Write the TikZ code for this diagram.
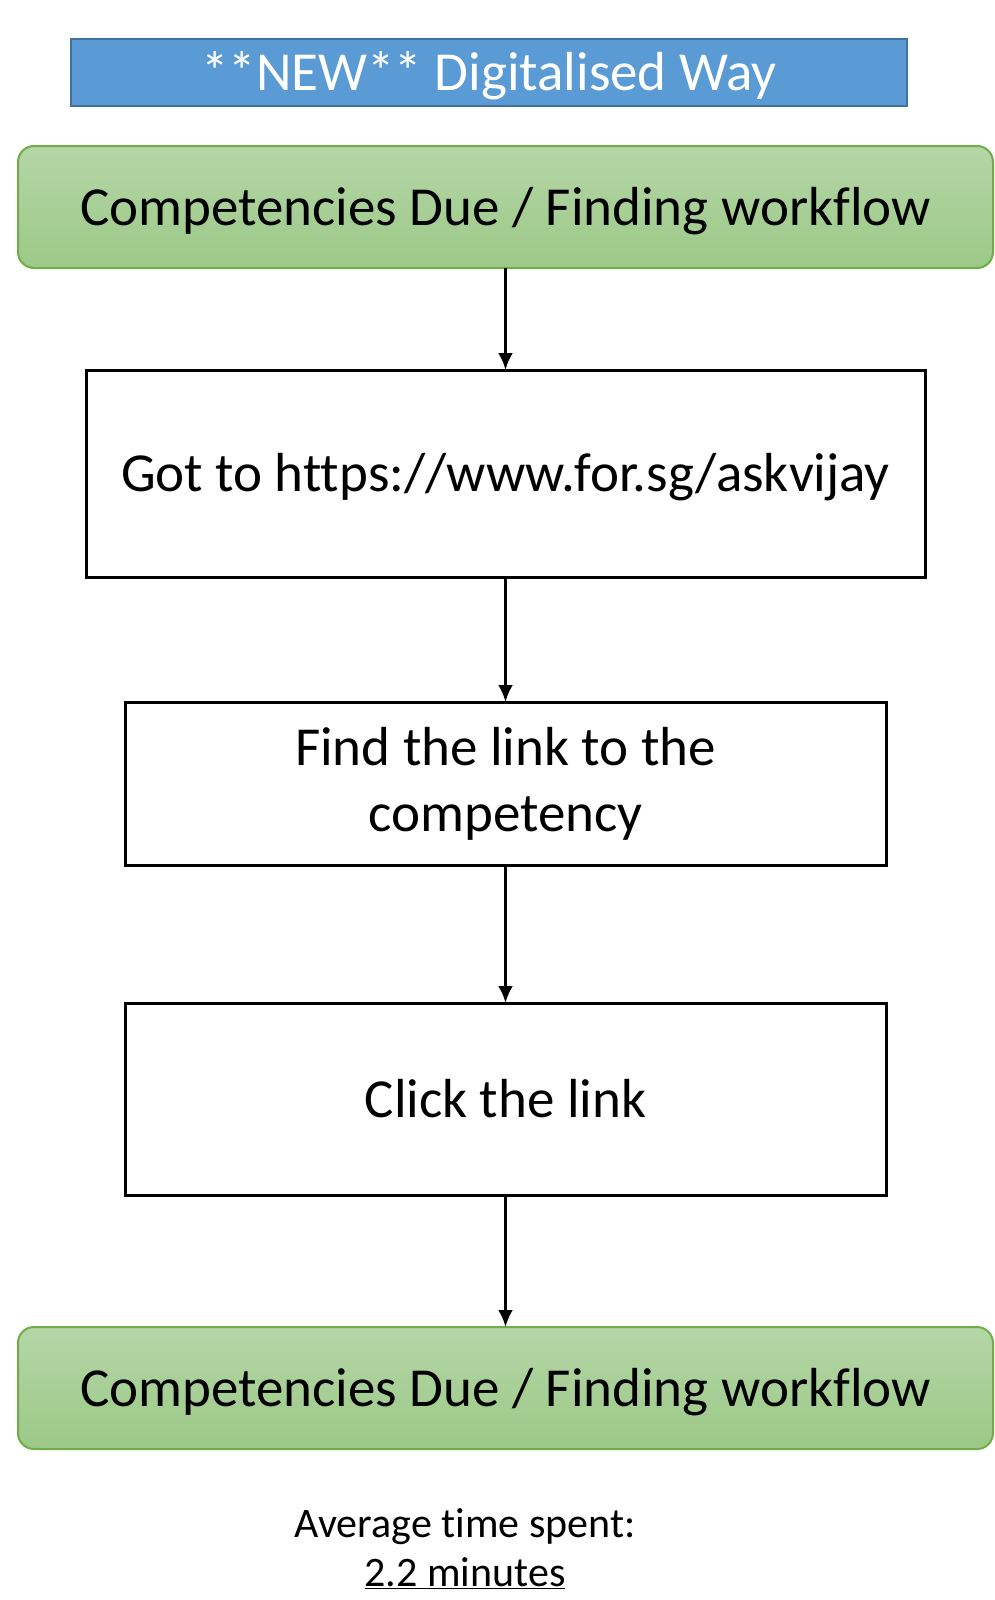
\documentclass[tikz,border=0pt]{standalone}
\usepackage{fontspec}
\setmainfont[Ligatures=NoCommon]{Carlito}
\usetikzlibrary{positioning}
\usetikzlibrary{arrows.meta}

\definecolor{hdblue}{HTML}{5B9BD5}
\definecolor{hdedge}{HTML}{41719C}
\definecolor{gntop}{HTML}{B5D6A7}
\definecolor{gnbot}{HTML}{9CC987}
\definecolor{gnedge}{HTML}{70AD47}

\begin{document}
\begin{tikzpicture}[>={Latex[length=17pt,width=15pt]},x=1pt,y=1pt,line width=3pt,
	header/.style={minimum width=836pt,minimum height=67pt,outer sep=0pt,inner sep=0pt,draw=hdedge,line width=2.5pt,fill=hdblue,text=white,text height=50pt,text depth=14pt,font=\fontsize{55}{60}\selectfont},
	endbox/.style={minimum width=975pt,minimum height=122pt,outer sep=0pt,inner sep=0pt,draw=gnedge,line width=2pt,rounded corners=16pt,top color=gntop,bottom color=gnbot,text height=50pt,text depth=14pt,font=\fontsize{55}{60}\selectfont},
	stepbox/.style={minimum width=761pt,outer sep=0pt,inner sep=0pt,draw=black,line width=3pt,align=center,font=\fontsize{55}{66}\selectfont},
	oneline/.style={text height=50pt,text depth=14pt}]
	\useasboundingbox (0,0) rectangle (994,-1600);

	\node [header] at (489,-72.5) (head) {**NEW** Digitalised Way};

	\node [endbox] at (505.5,-207) (start) {Competencies Due / Finding workflow};
	\node [stepbox,oneline,minimum width=839pt,minimum height=207pt,below=102pt of start] (goto) {Got to https://www.for.sg/askvijay};
	\node [stepbox,minimum height=163pt,below=125pt of goto] (find) {Find the link to the\\competency};
	\node [stepbox,oneline,minimum height=192pt,below=138pt of find] (click) {Click the link};
	\node [endbox,below=132pt of click] (finish) {Competencies Due / Finding workflow};

	\node [align=center,font=\fontsize{42}{49}\selectfont,inner sep=0pt] at (465,-1549) (avg) {Average time spent:\\\underline{2.2 minutes}};

	\draw[->] (start) -- (goto);
	\draw[->] (goto) -- (find);
	\draw[->] (find) -- (click);
	\draw[->] (click) -- (finish);
\end{tikzpicture}
\end{document}
